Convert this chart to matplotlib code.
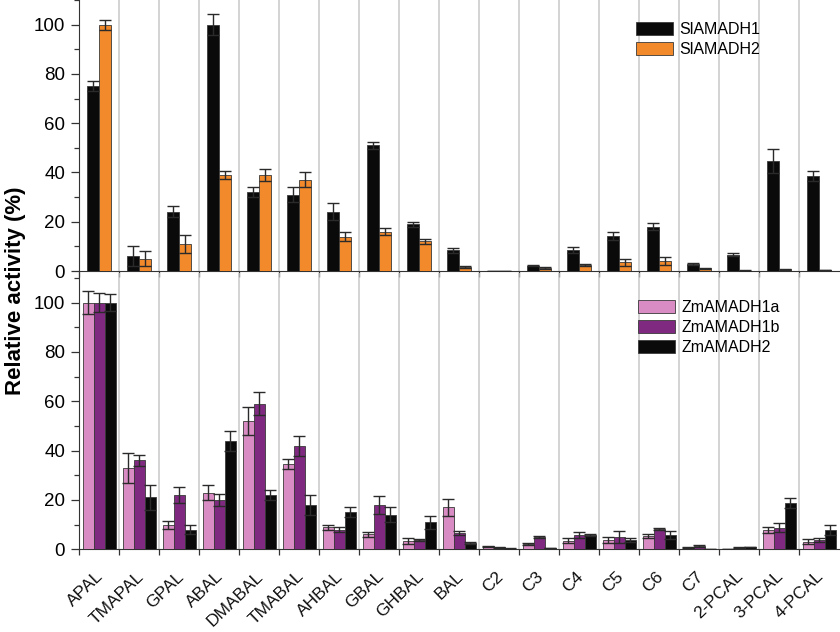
import matplotlib
matplotlib.use("Agg")
import matplotlib.pyplot as plt
import numpy as np
from matplotlib.ticker import MultipleLocator, FixedLocator

plt.rcParams['font.family'] = ['Liberation Sans', 'DejaVu Sans']

categories = ["APAL", "TMAPAL", "GPAL", "ABAL", "DMABAL", "TMABAL", "AHBAL", "GBAL",
              "GHBAL", "BAL", "C2", "C3", "C4", "C5", "C6", "C7", "2-PCAL", "3-PCAL", "4-PCAL"]

sl1 = [75, 6, 24, 100, 32, 31, 24, 51, 19, 8.4, 0, 2.2, 8.4, 14.3, 18, 2.8, 6.6, 44.5, 38.7]
sl1_err = [2, 4, 2.2, 4.4, 2, 3, 3.5, 1.5, 1, 1, 0, 0.3, 1.2, 1.6, 1.5, 0.3, 0.6, 4.9, 2]
sl2 = [100, 5, 11, 39, 39, 37, 14, 16, 12, 1.7, 0, 1.1, 2.6, 3.5, 4, 1.2, 0.2, 0.7, 0.4]
sl2_err = [2, 3, 3.5, 1.5, 2.5, 3, 2, 1.5, 1, 0.4, 0, 0.4, 0.4, 1.3, 1.6, 0.2, 0.1, 0.2, 0.1]

zm1a = [100, 33, 10, 23, 52, 34.5, 9, 6, 3.4, 17, 1.3, 2.1, 3.5, 3.8, 5.5, 0.8, 0.15, 7.7, 3.1]
zm1a_err = [4.6, 6, 1.6, 3, 5.5, 2, 1, 1.2, 1.1, 3.5, 0.2, 0.4, 0.9, 1.2, 0.9, 0.2, 0.05, 1.2, 1.1]
zm1b = [100, 36, 22, 20, 59, 42, 8, 18, 3.8, 6.5, 0.8, 5, 5.7, 4.9, 8.1, 1.2, 0.7, 8.8, 3.8]
zm1b_err = [4, 2.4, 3.2, 2.5, 4.7, 4, 1, 3.5, 0.5, 0.8, 0.2, 0.4, 1.3, 2.4, 0.4, 0.4, 0.1, 1.7, 0.7]
zm2 = [100, 21, 8, 44, 22, 18, 15, 14, 10.9, 2.7, 0.25, 0.5, 5.7, 3.9, 5.8, 0.2, 0.9, 18.9, 7.8]
zm2_err = [3.4, 5, 1.8, 4, 2, 4, 2, 3, 2.7, 0.4, 0.1, 0.1, 0.4, 0.8, 1.5, 0.1, 0.1, 2, 2.1]

top_labels = ["SlAMADH1", "SlAMADH2"]
bottom_labels = ["ZmAMADH1a", "ZmAMADH1b", "ZmAMADH2"]

c_black = "#0a0a0a"
c_orange = "#f2892a"
c_pink = "#d88cc3"
c_purple = "#7f2a80"
edge = "#3a3a3a"
err_kw = dict(ecolor="#2a2a2a", elinewidth=1.0, capsize=4, capthick=1.0)

fig = plt.figure(figsize=(8.4, 6.32), dpi=100)
W, H = 840, 632
ax_left = 79 / W
ax_width = 760 / W
ax1 = fig.add_axes([ax_left, 1 - 271 / H, ax_width, 271 / H])
ax2 = fig.add_axes([ax_left, 1 - 549.3 / H, ax_width, (549.3 - 273) / H])

x = np.arange(len(categories))

# top panel
bw = 0.3
ax1.bar(x - bw / 2, sl1, bw, yerr=sl1_err, color=c_black, edgecolor=edge, linewidth=0.6,
        error_kw=err_kw, label=top_labels[0], zorder=3)
ax1.bar(x + bw / 2, sl2, bw, yerr=sl2_err, color=c_orange, edgecolor=edge, linewidth=0.6,
        error_kw=err_kw, label=top_labels[1], zorder=3)
ax1.set_ylim(0, 110)

# bottom panel
bw2 = 0.275
ax2.bar(x - bw2, zm1a, bw2, yerr=zm1a_err, color=c_pink, edgecolor=edge, linewidth=0.6,
        error_kw=err_kw, label=bottom_labels[0], zorder=3)
ax2.bar(x, zm1b, bw2, yerr=zm1b_err, color=c_purple, edgecolor=edge, linewidth=0.6,
        error_kw=err_kw, label=bottom_labels[1], zorder=3)
ax2.bar(x + bw2, zm2, bw2, yerr=zm2_err, color=c_black, edgecolor=edge, linewidth=0.6,
        error_kw=err_kw, label=bottom_labels[2], zorder=3)
ax2.set_ylim(0, 112)

bounds = np.arange(len(categories) - 1) + 0.5
for ax in (ax1, ax2):
    ax.set_xlim(-0.5, len(categories) - 0.5)
    for b in bounds:
        ax.axvline(b, color="#c8c8c8", linewidth=1.1, zorder=0)
    ax.spines['top'].set_visible(False)
    ax.spines['right'].set_visible(False)
    ax.spines['left'].set_color("#333333")
    ax.spines['bottom'].set_color("#333333")
    ax.yaxis.set_major_locator(MultipleLocator(20))
    ax.yaxis.set_minor_locator(MultipleLocator(10))
    ax.tick_params(axis='y', which='major', direction='out', length=6, width=0.9,
                   color="#333333", labelsize=13.5, pad=4)
    ax.tick_params(axis='y', which='minor', direction='out', length=3.5, width=0.9,
                   color="#333333")
    ax.xaxis.set_major_locator(FixedLocator(list(bounds) + [-0.5]))
    ax.tick_params(axis='x', which='major', direction='out', length=4, width=0.9,
                   color="#333333", labelbottom=False)
    ax.set_facecolor("none")

# category labels under bottom panel
for i, lab in enumerate(categories):
    ax2.text(i - 0.08, -0.07, lab, transform=ax2.get_xaxis_transform(), rotation=44,
             rotation_mode='anchor', ha='right', va='top', fontsize=12.5, color="#111111")

fig.text(0.018, 1 - 291 / H, "Relative activity (%)", rotation=90, ha='center', va='center',
         fontsize=16, fontweight='bold')

leg1 = ax1.legend(loc='upper left', bbox_to_anchor=(636 / W, 1 - 22 / H),
                  bbox_transform=fig.transFigure, frameon=False, fontsize=11.5,
                  borderpad=0, borderaxespad=0, handlelength=2.3, handleheight=0.9,
                  handletextpad=0.4, labelspacing=0.3)
leg2 = ax2.legend(loc='upper left', bbox_to_anchor=(638 / W, 1 - 300 / H),
                  bbox_transform=fig.transFigure, frameon=False, fontsize=11.5,
                  borderpad=0, borderaxespad=0, handlelength=2.3, handleheight=0.9,
                  handletextpad=0.4, labelspacing=0.3)

fig.savefig("out.png", dpi=100, facecolor="white")
